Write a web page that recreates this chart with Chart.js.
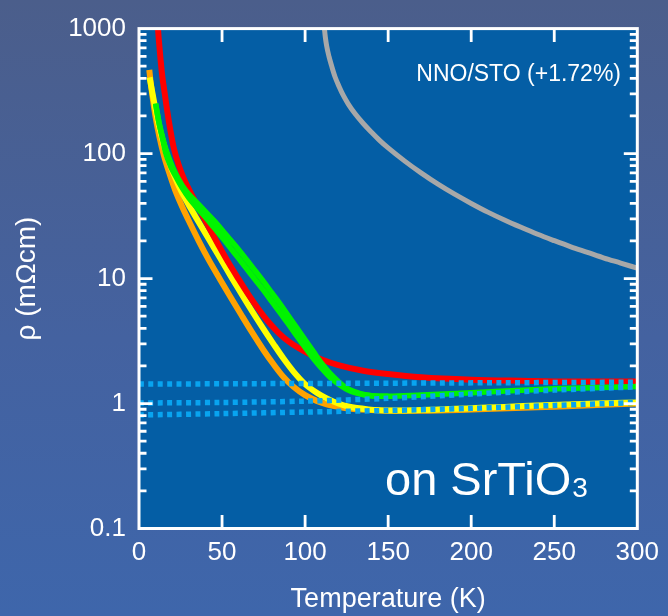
<!DOCTYPE html>
<html>
<head>
<meta charset="utf-8">
<script src="https://cdn.jsdelivr.net/npm/chart.js@4"></script>
<style>
  html, body { margin: 0; padding: 0; width: 668px; height: 616px; overflow: hidden;
    background: linear-gradient(180deg, #4b5e8b 0%, #4462a0 55%, #3e66ab 100%); }
  canvas { display: block; }
</style>
</head>
<body>
<canvas id="c" width="668" height="616"></canvas>
<script>
// Resistivity vs temperature, NdNiO3 films on SrTiO3
const xTicks = [0, 50, 100, 150, 200, 250, 300];
const yTicks = [0.1, 1, 10, 100, 1000];
const yTickLabels = ['0.1', '1', '10', '100', '1000'];

const redT   = [11.2, 12, 13, 14, 15.5, 17, 19, 21, 24, 27, 31, 36, 42, 48, 54, 60, 66, 72, 78, 84, 90, 96, 102, 110, 120, 135, 150, 170, 200, 230, 260, 300];
const redRho = [1100, 794, 562, 417, 302, 219, 151, 110, 80.4, 63.1, 49.0, 36.5, 25.8, 18.4, 13.3, 9.89, 7.41, 5.69, 4.49, 3.68, 3.14, 2.78, 2.51, 2.25, 2.03, 1.83, 1.72, 1.62, 1.55, 1.52, 1.5, 1.5];

// two green films, nearly coincident
const greenAT   = [10, 12, 14, 16, 19, 22, 26, 30, 35, 40, 45, 50, 55, 60, 65, 70, 75, 80, 85, 90, 95, 100, 105, 110, 115, 120, 125, 130, 135, 140, 150, 170, 200, 250, 300];
const greenARho = [251, 178, 138, 110, 85.1, 69.2, 55.6, 47.3, 40.3, 34.3, 29.2, 24.5, 20.4, 17.0, 14.0, 11.5, 9.44, 7.67, 6.24, 5.01, 4.03, 3.24, 2.60, 2.09, 1.74, 1.50, 1.33, 1.24, 1.18, 1.156, 1.143, 1.17, 1.22, 1.31, 1.37];
const greenBT   = [10, 12, 14, 16, 19, 22, 26, 30, 35, 40, 45, 50, 55, 60, 65, 70, 75, 80, 85, 90, 95, 100, 105, 110, 115, 120, 125, 130, 135, 140, 150];
const greenBRho = [251, 178, 135, 102, 79.4, 66.1, 53.1, 44.2, 36.7, 30.9, 25.7, 21.4, 17.6, 14.5, 11.9, 9.77, 8.04, 6.53, 5.31, 4.32, 3.47, 2.82, 2.29, 1.91, 1.62, 1.43, 1.30, 1.22, 1.18, 1.156, 1.143];

const yellowT   = [6.4, 8, 9.7, 11.5, 13.5, 16, 18.6, 22, 26, 31, 36, 42, 49, 55, 62, 68, 75, 81, 87, 93, 100, 107, 113, 120, 126, 138, 150, 160, 180, 197, 220, 248, 275, 300];
const yellowRho = [407, 309, 234, 178, 138, 105, 82.2, 63.1, 48.4, 36.7, 28.2, 20.7, 14.5, 10.6, 7.41, 5.50, 3.94, 2.99, 2.29, 1.80, 1.43, 1.22, 1.10, 1.0, 0.946, 0.898, 0.879, 0.879, 0.895, 0.914, 0.94, 0.975, 1.0, 1.02];

const orangeT   = [6.2, 7, 8.4, 10, 12.2, 15, 18.6, 22, 26, 31, 36, 42, 49, 55, 62, 68, 75, 81, 87, 93, 100, 107, 113, 120, 126, 138, 150, 170, 200, 250, 300];
const orangeRho = [468, 372, 269, 195, 138, 96.6, 67.6, 50.1, 37.6, 27.2, 19.95, 14.1, 9.75, 7.14, 5.01, 3.72, 2.67, 2.06, 1.63, 1.36, 1.166, 1.05, 0.986, 0.94, 0.914, 0.889, 0.875, 0.875, 0.895, 0.944, 1.0];

const grayT   = [111.4, 112.2, 113, 114.4, 116, 118, 120.5, 123, 126, 130, 135, 140, 145, 150, 160, 170, 180, 190, 200, 210, 220, 230, 240, 250, 260, 270, 280, 290, 300];
const grayRho = [1072, 851, 724, 596, 501, 412, 343, 292, 249, 209, 174, 148, 127, 111, 87.0, 69.7, 56.9, 47.3, 39.9, 34.0, 29.4, 25.7, 22.6, 20.1, 17.96, 16.2, 14.6, 13.3, 12.1];

// dotted reference fits
const fitTopT = [0, 300];
const fitTopRho = [1.43, 1.48];
const fitMidT = [0, 50, 100, 150, 200, 250, 300];
const fitMidRho = [1.01, 1.02, 1.045, 1.1, 1.19, 1.28, 1.36];
const fitLowT = [0, 50, 100, 150, 200, 250, 300];
const fitLowRho = [0.81, 0.83, 0.855, 0.88, 0.915, 0.965, 1.02];

const FONT = "'Liberation Sans', Arial, Helvetica, sans-serif";
const pts = (xs, ys) => xs.map((x, i) => ({ x: x, y: ys[i] }));

function curve(label, xs, ys, color, width, order) {
  return { label, data: pts(xs, ys), borderColor: color, borderWidth: width,
    pointRadius: 0, fill: false, cubicInterpolationMode: 'monotone', clip: 0, order };
}
function dotted(label, xs, ys, order) {
  return { label, data: pts(xs, ys), borderColor: '#08a4f0', borderWidth: 5.5,
    borderDash: [5, 4.4], borderCapStyle: 'butt', pointRadius: 0, fill: false,
    tension: 0.3, clip: 0, order };
}

const plotBackground = {
  id: 'plotBackground',
  beforeDraw(chart) {
    const { ctx, chartArea: a } = chart;
    ctx.save();
    ctx.fillStyle = '#045ea5';
    ctx.fillRect(a.left, a.top, a.right - a.left, a.bottom - a.top);
    ctx.restore();
  }
};

// white box with inward ticks, plus the in-plot captions
const frame = {
  id: 'frame',
  afterDraw(chart) {
    const ctx = chart.ctx;
    const a = chart.chartArea;
    const xs = chart.scales.x, ys = chart.scales.y;
    ctx.save();
    ctx.setLineDash([]);
    ctx.globalAlpha = 1;
    ctx.fillStyle = '#ffffff';
    const tw = 2.8;
    ctx.beginPath();
    for (const v of xTicks.slice(1, -1)) {
      const px = xs.getPixelForValue(v);
      ctx.rect(px - tw / 2, a.bottom - 13.5, tw, 13.5);
      ctx.rect(px - tw / 2, a.top, tw, 13.5);
    }
    for (let d = 0; d < yTicks.length - 1; d++) {
      for (let k = 1; k <= 9; k++) {
        if (k === 1 && d === 0) continue;
        const py = ys.getPixelForValue(k * yTicks[d]);
        const len = k === 1 ? 13.5 : 7.5;
        ctx.rect(a.left, py - tw / 2, len, tw);
        ctx.rect(a.right - len, py - tw / 2, len, tw);
      }
    }
    ctx.fill();
    ctx.strokeStyle = '#ffffff';
    ctx.lineWidth = 3;
    ctx.strokeRect(a.left, a.top, a.right - a.left, a.bottom - a.top);

    ctx.textBaseline = 'alphabetic';
    ctx.textAlign = 'right';
    ctx.font = '23px ' + FONT;
    ctx.fillText('NNO/STO (+1.72%)', 621, 81);
    ctx.textAlign = 'left';
    ctx.font = '47px ' + FONT;
    ctx.fillText('on SrTiO', 385, 495);
    const w = ctx.measureText('on SrTiO').width;
    ctx.font = '28px ' + FONT;
    ctx.fillText('3', 385 + w + 1, 497);
    ctx.restore();
  }
};

new Chart(document.getElementById('c'), {
  type: 'line',
  data: {
    datasets: [
      dotted('fit 1', fitTopT, fitTopRho, 0),
      dotted('fit 2', fitMidT, fitMidRho, 0),
      dotted('fit 3', fitLowT, fitLowRho, 0),
      curve('green A', greenAT, greenARho, '#00f400', 5.5, 1),
      curve('green B', greenBT, greenBRho, '#00f400', 5.5, 1),
      curve('red', redT, redRho, '#ff0000', 6, 2),
      curve('yellow', yellowT, yellowRho, '#ffff00', 6, 3),
      curve('orange', orangeT, orangeRho, '#ffa200', 6, 4),
      curve('NNO/STO', grayT, grayRho, '#a8a8a8', 5, 5)
    ]
  },
  options: {
    responsive: false,
    animation: false,
    devicePixelRatio: 1,
    layout: { padding: { top: 23.7, right: 26.5, left: 0, bottom: 0 } },
    plugins: { legend: { display: false }, tooltip: { enabled: false } },
    scales: {
      x: {
        type: 'linear', min: 0, max: 300,
        afterFit(s) { s.height = 87.5; },
        afterBuildTicks(s) { s.ticks = xTicks.map(v => ({ value: v })); },
        grid: { display: false, drawTicks: false },
        border: { display: false },
        ticks: { color: '#ffffff', font: { family: FONT, size: 26 }, padding: 9,
          maxRotation: 0, autoSkip: false, callback: v => String(v) },
        title: { display: true, text: 'Temperature (K)', color: '#ffffff',
          font: { family: FONT, size: 27 }, padding: { top: 0, bottom: 0 } }
      },
      y: {
        type: 'logarithmic', min: 0.1, max: 1000,
        afterFit(s) { s.width = 139; },
        afterBuildTicks(s) { s.ticks = yTicks.map(v => ({ value: v })); },
        grid: { display: false, drawTicks: false },
        border: { display: false },
        ticks: { color: '#ffffff', font: { family: FONT, size: 26 }, padding: 13,
          autoSkip: false, callback: (v, i) => yTickLabels[i] },
        title: { display: true, text: 'ρ (mΩcm)', color: '#ffffff',
          font: { family: FONT, size: 28 }, padding: { top: 10.7, bottom: 0 } }
      }
    }
  },
  plugins: [plotBackground, frame]
});
</script>
</body>
</html>
